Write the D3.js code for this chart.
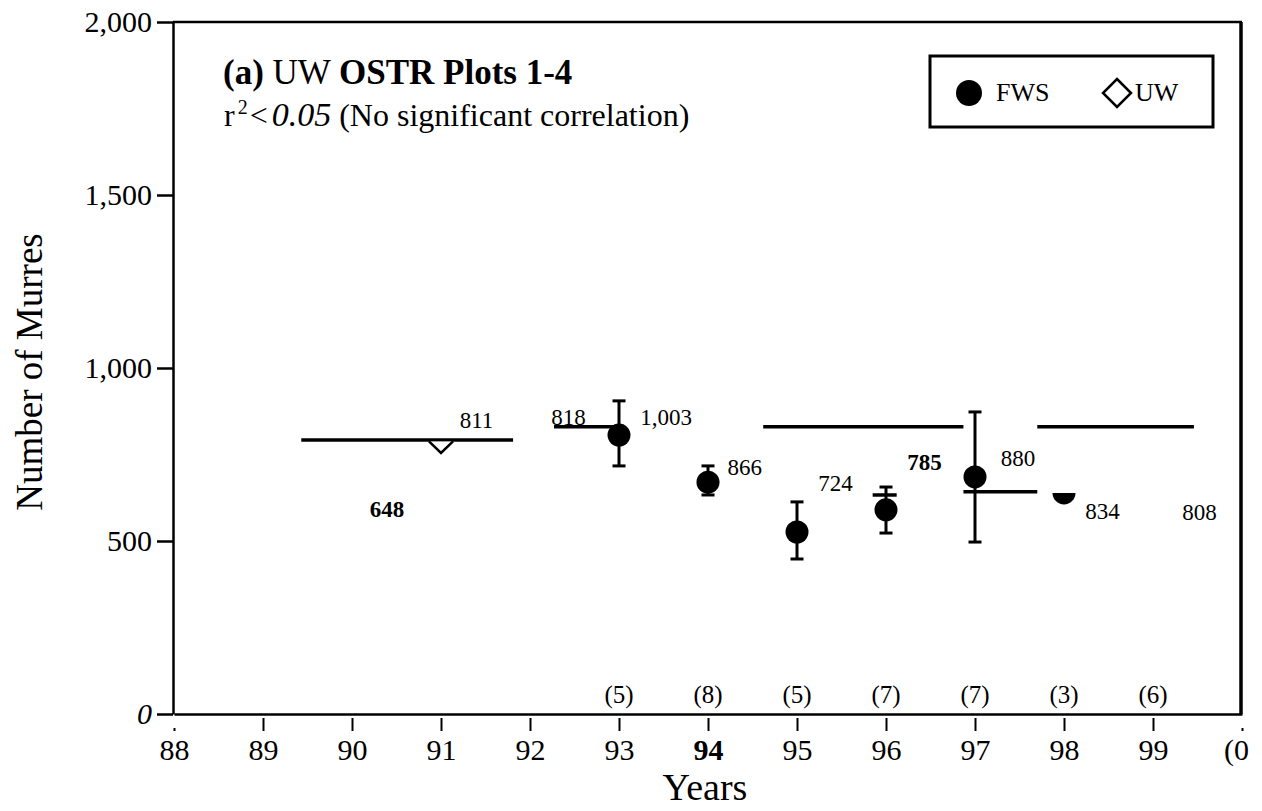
<!DOCTYPE html>
<html>
<head>
<meta charset="utf-8">
<script src="https://cdn.jsdelivr.net/npm/d3@7"></script>
<style>
  body { margin: 0; background: #fff; }
  svg text { font-family: "Liberation Serif", "Times New Roman", serif; fill: #000; }
</style>
</head>
<body>
<div id="chart"></div>
<script>
// FWS counts: mean with error bar
var fwsYears = [93, 94, 95, 96, 97, 98];
var fwsMean  = [806, 670, 526, 590, 685, 639];
var fwsLow   = [717, 633, 448, 523, 497, null];
var fwsHigh  = [905, 717, 613, 656, 873, null];
// UW count
var uwYears  = [91];
var uwValues = [792];
// horizontal reference lines (start year, end year, value)
var segStart = [89.43, 92.27, 94.62, 97.70, 96.87, 95.85];
var segEnd   = [91.81, 93.00, 96.87, 99.46, 97.70, 96.12];
var segValue = [792, 830, 830, 830, 642, 633];
// value labels written on the plot
var labelText  = ["811", "818", "1,003", "648", "866", "724", "785", "880", "834", "808"];
var labelYear  = [91.21, 92.24, 93.24, 90.20, 94.22, 95.24, 96.24, 97.29, 98.24, 99.33];
var labelValue = [827, 835, 835, 569, 691, 645, 705, 717, 564, 561];
// sample sizes
var nYears  = [93, 94, 95, 96, 97, 98, 99];
var nCounts = [5, 8, 5, 7, 7, 3, 6];
// ticks
var yearTicks = [88, 89, 90, 91, 92, 93, 94, 95, 96, 97, 98, 99, 100];
var yearLabels = ["88", "89", "90", "91", "92", "93", "94", "95", "96", "97", "98", "99", "(0"];
var yTicks = [0, 500, 1000, 1500, 2000];

var width = 1262, height = 811;

var svg = d3.select("#chart").append("svg")
    .attr("width", width)
    .attr("height", height);

var x = d3.scaleLinear().domain([88, 100]).range([174, 1242]);
var y = d3.scaleLinear().domain([0, 2000]).range([714, 22]);

// frame: top and right border
svg.append("line")
   .attr("x1", 173).attr("x2", x(100))
   .attr("y1", y(2000)).attr("y2", y(2000))
   .attr("stroke", "#000").attr("stroke-width", 2.5);
svg.append("line")
   .attr("x1", x(100) - 1).attr("x2", x(100) - 1)
   .attr("y1", y(2000)).attr("y2", y(0))
   .attr("stroke", "#000").attr("stroke-width", 3.5);

// y axis
var gy = svg.append("g")
    .attr("transform", "translate(173,0)")
    .call(d3.axisLeft(y).tickValues(yTicks).tickSize(16).tickSizeOuter(0)
            .tickPadding(5).tickFormat(d3.format(",")));
gy.select(".domain").attr("stroke-width", 2.5);
gy.selectAll(".tick line").attr("stroke-width", 2.5);
gy.selectAll(".tick text")
  .attr("font-size", 30)
  .style("font-style", function (d) { return d === 0 ? "italic" : "normal"; });

// x axis
var gx = svg.append("g")
    .attr("transform", "translate(0," + y(0) + ")")
    .call(d3.axisBottom(x).tickValues(yearTicks).tickSize(17).tickSizeOuter(0)
            .tickPadding(8).tickFormat(function (d, i) { return yearLabels[i]; }));
gx.select(".domain").attr("stroke-width", 2.5);
gx.selectAll(".tick line")
  .attr("stroke-width", 2)
  .attr("y1", function (d) { return (d === 88 || d === 100) ? 14 : 4; });
gx.selectAll(".tick text")
  .attr("font-size", 30)
  .attr("dx", function (d) { return d === 100 ? -6 : 0; })
  .style("font-weight", function (d) { return d === 94 ? "bold" : "normal"; });

// axis titles
svg.append("text")
   .attr("transform", "translate(42,372) rotate(-90)")
   .attr("text-anchor", "middle")
   .attr("font-size", 37)
   .text("Number of Murres");
svg.append("text")
   .attr("x", 705).attr("y", 800)
   .attr("text-anchor", "middle")
   .attr("font-size", 38)
   .text("Years");

// panel title
var t1 = svg.append("text").attr("x", 223).attr("y", 84).attr("font-size", 35);
t1.append("tspan").attr("font-weight", "bold").text("(a) ");
t1.append("tspan").text("UW ");
t1.append("tspan").attr("font-weight", "bold").text("OSTR Plots 1-4");

var t2 = svg.append("text").attr("x", 224).attr("y", 126).attr("font-size", 32);
t2.append("tspan").text("r");
t2.append("tspan").attr("font-size", 20).attr("dx", 3).attr("dy", -12).text("2");
t2.append("tspan").attr("dx", 2).attr("dy", 12).text("<");
t2.append("tspan").attr("font-style", "italic").attr("font-size", 34).attr("dx", 4).text("0.05");
t2.append("tspan").attr("font-size", 32).text(" (No significant correlation)");

// reference lines
svg.append("g").selectAll("line")
   .data(segValue)
   .enter()
   .append("line")
   .attr("x1", function (d, i) { return x(segStart[i]); })
   .attr("x2", function (d, i) { return x(segEnd[i]); })
   .attr("y1", function (d) { return y(d); })
   .attr("y2", function (d) { return y(d); })
   .attr("stroke", "#000")
   .attr("stroke-width", 3.5);

// error bars
var bars = svg.append("g").selectAll("g")
   .data(fwsYears.filter(function (d, i) { return fwsLow[i] !== null; }))
   .enter()
   .append("g");
bars.append("line")
    .attr("x1", function (d) { return x(d); })
    .attr("x2", function (d) { return x(d); })
    .attr("y1", function (d) { return y(fwsLow[fwsYears.indexOf(d)]); })
    .attr("y2", function (d) { return y(fwsHigh[fwsYears.indexOf(d)]); })
    .attr("stroke", "#000").attr("stroke-width", 3);
[fwsLow, fwsHigh].forEach(function (arr) {
  bars.append("line")
      .attr("x1", function (d) { return x(d) - 6.5; })
      .attr("x2", function (d) { return x(d) + 6.5; })
      .attr("y1", function (d) { return y(arr[fwsYears.indexOf(d)]); })
      .attr("y2", function (d) { return y(arr[fwsYears.indexOf(d)]); })
      .attr("stroke", "#000").attr("stroke-width", 3);
});

// FWS dots (the 98 dot only shows its lower half)
var halfArc = d3.arc().innerRadius(0).outerRadius(11.5)
    .startAngle(Math.PI / 2).endAngle(Math.PI * 3 / 2);
svg.append("g").selectAll("path")
   .data(fwsYears)
   .enter()
   .append("path")
   .attr("transform", function (d, i) { return "translate(" + x(d) + "," + y(fwsMean[i]) + ")"; })
   .attr("d", function (d) {
     return d === 98 ? halfArc() : d3.symbol().type(d3.symbolCircle).size(Math.PI * 11.5 * 11.5)();
   })
   .attr("fill", "#000");

// UW diamond (lower half shows below the line)
svg.append("g").selectAll("path")
   .data(uwYears)
   .enter()
   .append("path")
   .attr("transform", function (d, i) { return "translate(" + x(d) + "," + y(uwValues[i]) + ")"; })
   .attr("d", "M-12,1.5L0,13L12,1.5")
   .attr("fill", "#fff")
   .attr("stroke", "#000")
   .attr("stroke-width", 2.5);

// value labels
svg.append("g").selectAll("text")
   .data(labelText)
   .enter()
   .append("text")
   .attr("x", function (d, i) { return x(labelYear[i]); })
   .attr("y", function (d, i) { return y(labelValue[i]); })
   .attr("font-size", 23)
   .attr("font-weight", function (d) { return (d === "648" || d === "785") ? "bold" : "normal"; })
   .text(function (d) { return d; });

// sample sizes
svg.append("g").selectAll("text")
   .data(nCounts)
   .enter()
   .append("text")
   .attr("x", function (d, i) { return x(nYears[i]); })
   .attr("y", y(32))
   .attr("text-anchor", "middle")
   .attr("font-size", 25)
   .text(function (d) { return "(" + d + ")"; });

// legend
var lg = svg.append("g").attr("transform", "translate(930,56)");
lg.append("rect")
  .attr("width", 283).attr("height", 71)
  .attr("fill", "#fff").attr("stroke", "#000").attr("stroke-width", 3);
lg.append("circle").attr("cx", 39).attr("cy", 37).attr("r", 13).attr("fill", "#000");
lg.append("text").attr("x", 66).attr("y", 45).attr("font-size", 26).text("FWS");
lg.append("path")
  .attr("d", "M187,23L201,37L187,51L173,37Z")
  .attr("fill", "#fff").attr("stroke", "#000").attr("stroke-width", 2.5);
lg.append("text").attr("x", 205).attr("y", 45).attr("font-size", 26).text("UW");
</script>
</body>
</html>
